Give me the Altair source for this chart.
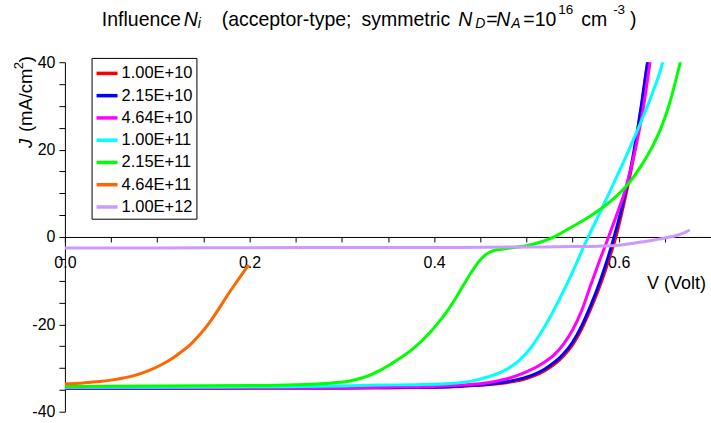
import altair as alt
import pandas as pd

FONT = "Liberation Sans"
OX, OY = 65, 62  # plot-area origin in page pixels

series_names = ["1.00E+10", "2.15E+10", "4.64E+10", "1.00E+11", "2.15E+11", "4.64E+11", "1.00E+12"]
series_colors = ["#FF0000", "#0000FF", "#FF00FF", "#00FFFF", "#00FF00", "#FF6600", "#CC99FF"]

v_1e10 = [0.0, 0.1, 0.2, 0.3, 0.35, 0.4, 0.43, 0.46, 0.48, 0.50, 0.52, 0.54, 0.55, 0.56, 0.57, 0.58, 0.59, 0.597, 0.60, 0.605, 0.61, 0.615, 0.62, 0.625, 0.63, 0.633]
j_1e10 = [-34.7, -34.7, -34.6, -34.6, -34.5, -34.4, -34.2, -33.8, -33.3, -32.4, -30.6, -27.3, -24.7, -21.0, -16.3, -11.0, -4.8, 0.0, 2.5, 7.0, 11.8, 17.0, 23.3, 30.4, 38.0, 42.0]

v_2e10 = [0.0, 0.1, 0.2, 0.3, 0.35, 0.4, 0.43, 0.46, 0.48, 0.50, 0.52, 0.54, 0.55, 0.56, 0.57, 0.58, 0.59, 0.595, 0.60, 0.605, 0.61, 0.615, 0.62, 0.625, 0.63, 0.633]
j_2e10 = [-34.7, -34.7, -34.6, -34.6, -34.5, -34.4, -34.1, -33.7, -33.1, -32.1, -30.2, -26.8, -24.1, -20.3, -15.5, -10.0, -3.6, 0.0, 3.9, 8.2, 12.7, 17.9, 24.0, 30.8, 38.3, 42.5]

v_4e10 = [0.0, 0.1, 0.2, 0.3, 0.35, 0.4, 0.43, 0.46, 0.48, 0.50, 0.52, 0.53, 0.54, 0.55, 0.56, 0.57, 0.58, 0.589, 0.597, 0.607, 0.618, 0.627, 0.634, 0.637]
j_4e10 = [-34.6, -34.6, -34.5, -34.5, -34.4, -34.2, -33.9, -33.3, -32.4, -30.9, -28.6, -27.0, -24.6, -21.3, -16.8, -10.8, -5.0, 0.0, 4.6, 10.7, 20.0, 30.0, 40.0, 44.0]

v_1e11 = [0.0, 0.1, 0.2, 0.3, 0.34, 0.38, 0.413, 0.44, 0.459, 0.475, 0.492, 0.505, 0.514, 0.525, 0.535, 0.545, 0.553, 0.56, 0.567, 0.577, 0.587, 0.597, 0.607, 0.617, 0.627, 0.637, 0.645, 0.649]
j_1e11 = [-34.4, -34.4, -34.3, -34.1, -33.9, -33.8, -33.6, -33.0, -32.0, -30.7, -28.3, -25.3, -22.5, -18.6, -14.6, -10.3, -6.6, -3.2, 0.0, 4.4, 8.9, 13.4, 18.0, 22.8, 27.8, 33.2, 38.0, 41.0]

v_2e11 = [0.0, 0.1, 0.2, 0.25, 0.29, 0.31, 0.326, 0.341, 0.362, 0.377, 0.395, 0.405, 0.413, 0.422, 0.431, 0.44, 0.449, 0.455, 0.46, 0.465, 0.47, 0.48, 0.50, 0.515, 0.53, 0.545, 0.56, 0.575, 0.593, 0.611, 0.625, 0.636, 0.645, 0.655, 0.665, 0.669]
j_2e11 = [-34.2, -34.1, -34.0, -33.8, -33.4, -32.9, -32.0, -30.6, -27.9, -25.6, -22.0, -19.5, -17.3, -14.5, -11.3, -8.2, -5.5, -4.2, -3.5, -3.1, -2.9, -2.6, -2.0, -1.2, 0.0, 1.8, 3.6, 5.6, 8.5, 12.3, 16.5, 20.5, 24.5, 30.5, 38.5, 42.0]

v_4e11 = [0.0, 0.02, 0.038, 0.055, 0.074, 0.092, 0.105, 0.117, 0.126, 0.135, 0.146, 0.157, 0.166, 0.175, 0.187, 0.199]
j_4e11 = [-33.6, -33.4, -33.1, -32.6, -31.8, -30.5, -29.2, -27.7, -26.3, -24.8, -22.4, -19.5, -16.7, -13.7, -10.0, -6.4]

v_1e12 = [0.0, 0.1, 0.2, 0.3, 0.4, 0.5, 0.55, 0.578, 0.60, 0.614, 0.63, 0.643, 0.658, 0.668, 0.677]
j_1e12 = [-2.5, -2.5, -2.45, -2.4, -2.4, -2.3, -2.2, -2.1, -1.9, -1.5, -1.0, -0.5, 0.1, 0.7, 1.6]

x_ticks = [0.0, 0.05, 0.1, 0.15, 0.2, 0.25, 0.3, 0.35, 0.4, 0.45, 0.5, 0.55, 0.6, 0.65, 0.7]
y_ticks = [-40, -35, -30, -25, -20, -15, -10, -5, 0, 5, 10, 15, 20, 25, 30, 35, 40]

all_v = [v_1e10, v_2e10, v_4e10, v_1e11, v_2e11, v_4e11, v_1e12]
all_j = [j_1e10, j_2e10, j_4e10, j_1e11, j_2e11, j_4e11, j_1e12]

rows = []
for name, vs, js in zip(series_names, all_v, all_j):
    for v, j in zip(vs, js):
        rows.append({"series": name, "V": v, "J": j})
df = pd.DataFrame(rows)

lines = alt.Chart(df).mark_line(strokeWidth=3, interpolate="monotone", clip=True).encode(
    x=alt.X("V:Q",
            scale=alt.Scale(domain=[0, 0.7], nice=False, zero=False),
            axis=alt.Axis(orient="bottom", offset=-175, values=x_ticks,
                          labelExpr="abs(datum.value*5 - round(datum.value*5)) < 0.000001 ? format(datum.value, '.1f') : ''",
                          tickSize=5, labelPadding=13, labelFontSize=16, labelFont=FONT,
                          labelColor="black", domainColor="black", tickColor="black",
                          grid=False, title=None, labelFlush=False, labelOverlap=False)),
    y=alt.Y("J:Q",
            scale=alt.Scale(domain=[-40, 40], nice=False, zero=False),
            axis=alt.Axis(orient="left", values=y_ticks,
                          labelExpr="datum.value % 20 == 0 ? '' + datum.value : ''",
                          tickSize=6, labelPadding=4, labelFontSize=16, labelFont=FONT,
                          labelColor="black", domainColor="black", tickColor="black",
                          grid=False, title=None, labelOverlap=False)),
    color=alt.Color("series:N",
                    scale=alt.Scale(domain=series_names, range=series_colors),
                    legend=alt.Legend(orient="none", legendX=26.7, legendY=-4.3, title=None,
                                      symbolType="stroke", symbolSize=441, symbolStrokeWidth=3.5,
                                      labelFontSize=16.5, labelFont=FONT, labelColor="black",
                                      strokeColor="black", fillColor="white", padding=3,
                                      rowPadding=1.3, labelOffset=2, cornerRadius=0)),
)


def txt(s, x, y, size, italic=False, angle=0, align="left"):
    return alt.Chart(alt.Data(values=[{}])).mark_text(
        align=align, baseline="alphabetic", fontSize=size, font=FONT,
        fontStyle="italic" if italic else "normal", angle=angle, color="black"
    ).encode(x=alt.value(x - OX), y=alt.value(y - OY), text=alt.value(s))


TS = 19.5
title_parts = [
    ("Influence", 102, 26, TS, False),
    ("N", 184, 26, TS, True),
    ("i", 198, 28, 14, True),
    ("(acceptor-type;", 222, 26, TS, False),
    ("symmetric", 362, 26, TS, False),
    ("N", 459, 26, TS, True),
    ("D", 476, 28, 14, True),
    ("=", 487, 26, TS, False),
    ("N", 497, 26, TS, True),
    ("A", 512, 28, 14, True),
    ("=10", 524, 26, TS, False),
    ("16", 559, 13.5, 13.5, False),
    ("cm", 582, 26, TS, False),
    ("-3", 614, 13.5, 13.5, False),
    (")", 631, 26, TS, False),
]
layers = [lines]
for s, x, y, size, it in title_parts:
    layers.append(txt(s, x, y, size, italic=it))

ytitle_parts = [
    ("J", 32, 148, 18.5, True),
    ("(mA/cm", 32, 132, 18.5, False),
    ("2", 23, 69, 13, False),
    (")", 32, 62, 18.5, False),
]
for s, x, y, size, it in ytitle_parts:
    layers.append(txt(s, x, y, size, italic=it, angle=270))

layers.append(txt("V (Volt)", 707, 289, 18, align="right"))

chart = alt.layer(*layers).properties(
    width=647, height=350,
    padding={"left": OX, "top": OY, "right": 0, "bottom": 11},
    autosize=alt.AutoSizeParams(type="none"),
).configure_view(strokeWidth=0)

chart.save("out.html", embed_options={"renderer": "svg", "actions": False})
